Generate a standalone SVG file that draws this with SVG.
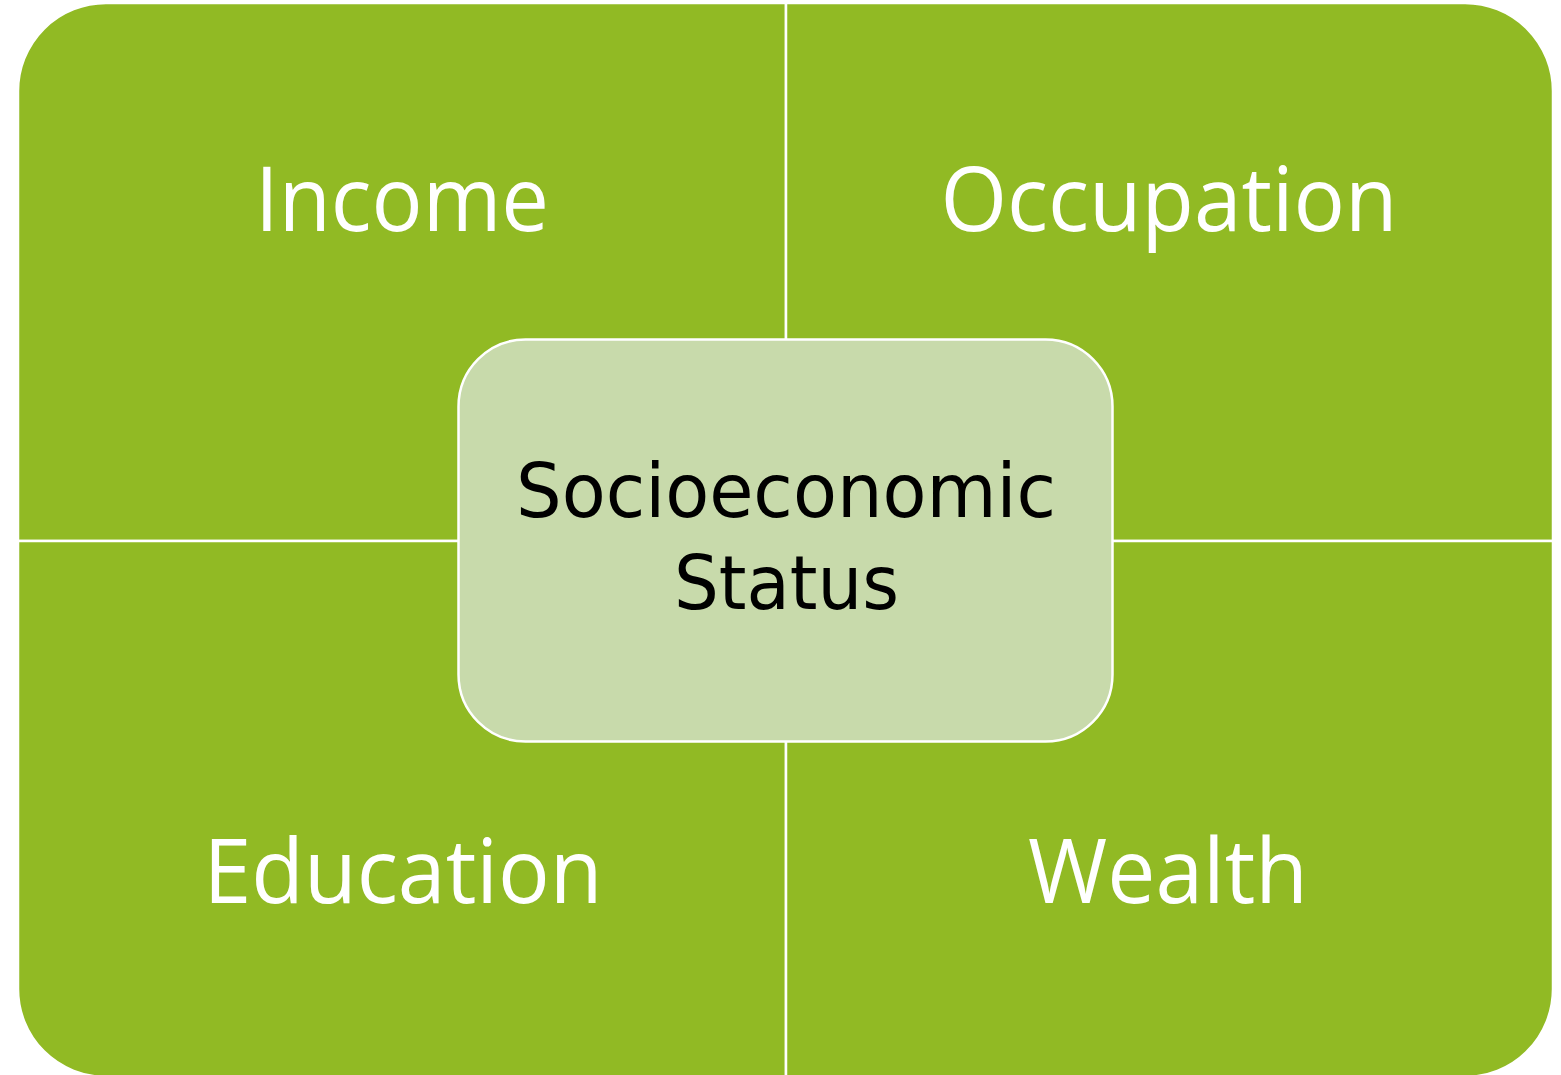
<svg xmlns="http://www.w3.org/2000/svg" width="1561" height="1075" viewBox="0 0 1561 1075">
<style>
.q{fill:#91BA24;stroke:#FFFFFF;stroke-width:2.5}
.ql{font-family:"Open Sans","Noto Sans","Liberation Sans",sans-serif;font-size:90px;fill:#FFFFFF;text-anchor:middle}
.c{fill:#C8DAAB;stroke:#FFFFFF;stroke-width:2.5}
.cl{font-family:"DejaVu Sans","Liberation Sans",sans-serif;font-size:74px;fill:#000000;text-anchor:middle}
</style>
<rect width="1561" height="1075" fill="#FFFFFF"/>
<g id="income">
<path class="q" d="M18,541 V91 A88,88 0 0 1 106,3 H786 V541 Z"/>
<text class="ql" x="402" y="231" textLength="294" lengthAdjust="spacingAndGlyphs">Income</text>
</g>
<g id="occupation">
<path class="q" d="M786,3 H1465 A88,88 0 0 1 1553,91 V541 H786 Z"/>
<text class="ql" x="1169" y="231" textLength="457" lengthAdjust="spacingAndGlyphs">Occupation</text>
</g>
<g id="education">
<path class="q" d="M18,541 H786 V1077 H106 A88,88 0 0 1 18,989 Z"/>
<text class="ql" x="403" y="903" textLength="399" lengthAdjust="spacingAndGlyphs">Education</text>
</g>
<g id="wealth">
<path class="q" d="M786,541 H1553 V989 A88,88 0 0 1 1465,1077 H786 Z"/>
<text class="ql" x="1168" y="903" textLength="280" lengthAdjust="spacingAndGlyphs">Wealth</text>
</g>
<g id="connectors"></g>
<g id="ses">
<rect class="c" x="458.5" y="339.5" width="654" height="402" rx="67" ry="67"/>
<text class="cl" x="786" y="517" textLength="540" lengthAdjust="spacingAndGlyphs">Socioeconomic</text>
<text class="cl" x="786.5" y="609" textLength="225" lengthAdjust="spacingAndGlyphs">Status</text>
</g>
</svg>
